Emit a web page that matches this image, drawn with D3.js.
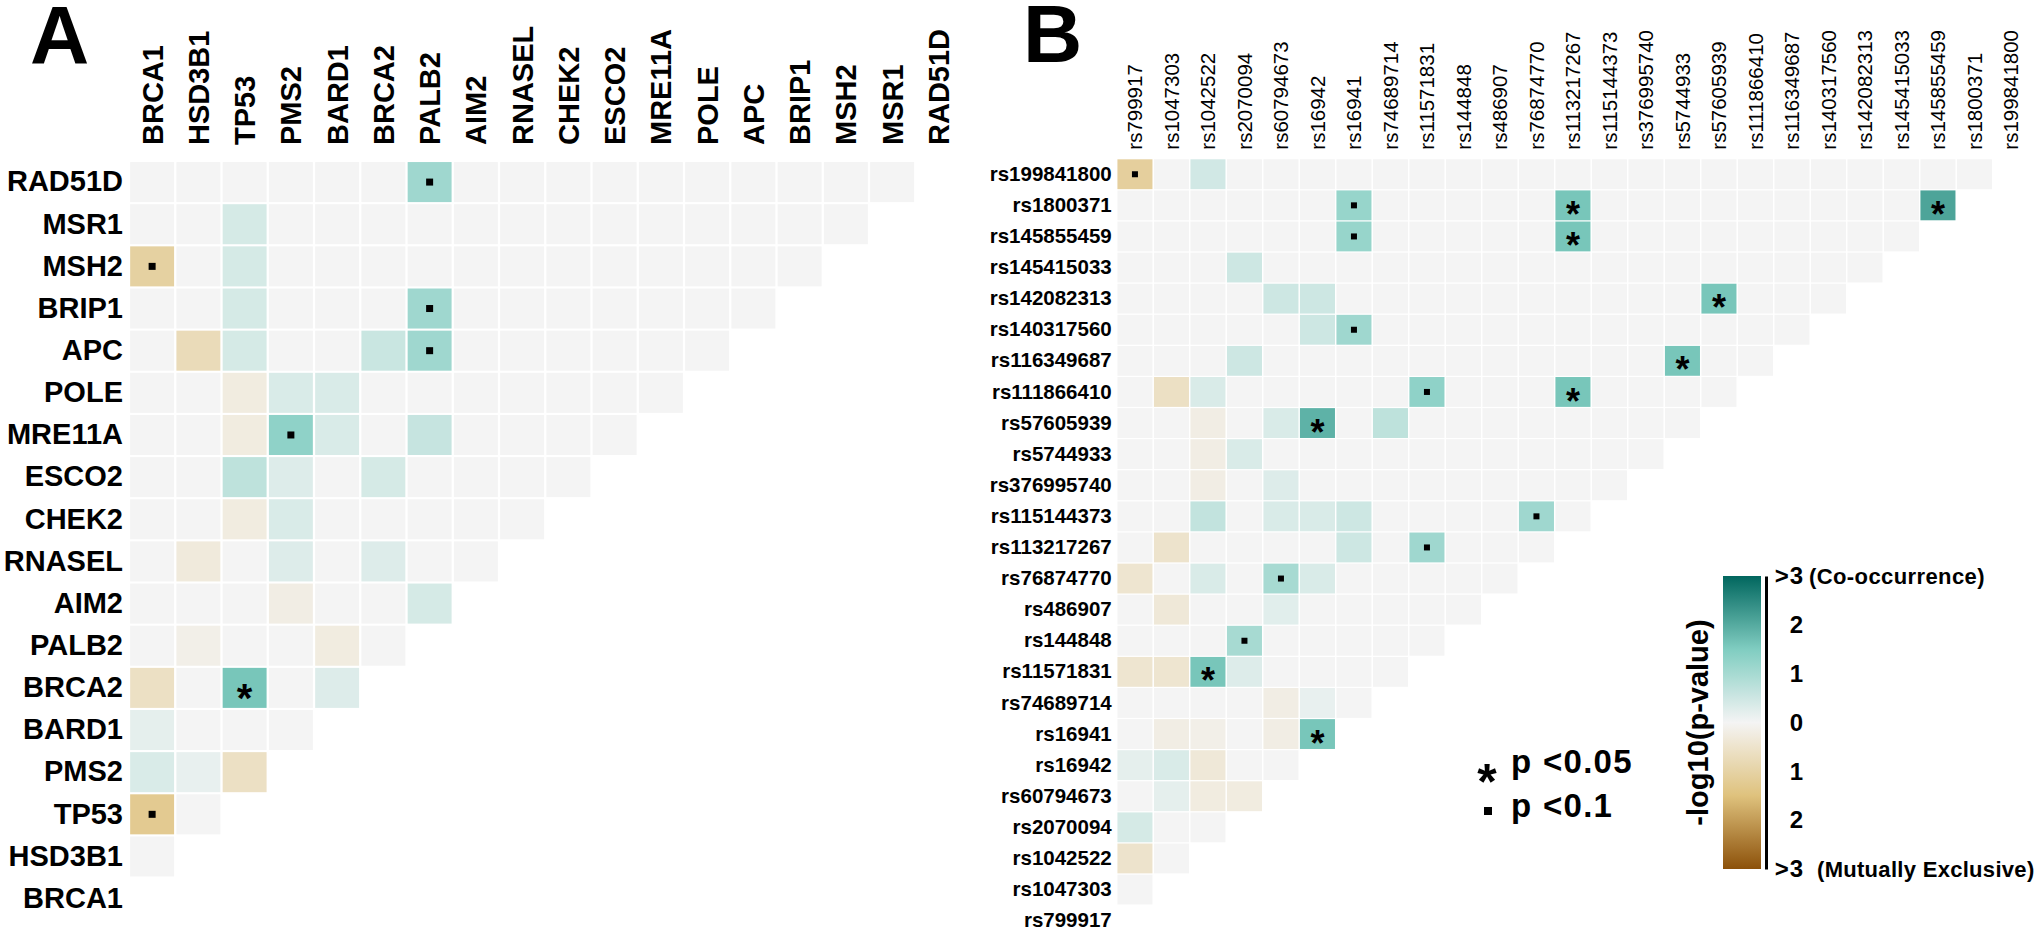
<!DOCTYPE html>
<html>
<head>
<meta charset="utf-8">
<script src="https://cdn.jsdelivr.net/npm/d3@7"></script>
<style>
  body { margin: 0; background: #fff; }
  svg text { font-family: "Liberation Sans", Arial, sans-serif; }
</style>
</head>
<body>
<script>
// Panel A genes in column order (rows run in the reverse order)
const genesA = ["BRCA1", "HSD3B1", "TP53", "PMS2", "BARD1", "BRCA2", "PALB2", "AIM2", "RNASEL",
  "CHEK2", "ESCO2", "MRE11A", "POLE", "APC", "BRIP1", "MSH2", "MSR1", "RAD51D"];

// signed -log10(p): positive = co-occurrence, negative = mutually exclusive
// one row per gene from the top (RAD51D) down, columns BRCA1 onwards
const valuesA = [
  [0, 0, 0, 0, 0, 0, 1.1, 0, 0, 0, 0, 0, 0, 0, 0, 0, 0],
  [0, 0, 0.4, 0, 0, 0, 0, 0, 0, 0, 0, 0, 0, 0, 0, 0],
  [-1.05, 0, 0.4, 0, 0, 0, 0, 0, 0, 0, 0, 0, 0, 0, 0],
  [0, 0, 0.4, 0, 0, 0, 1.1, 0, 0, 0, 0, 0, 0, 0],
  [0, -0.75, 0.4, 0, 0, 0.55, 1.1, 0, 0, 0, 0, 0, 0],
  [0, 0, -0.25, 0.35, 0.35, 0, 0, 0, 0, 0, 0, 0],
  [0, 0, -0.25, 1.3, 0.35, 0, 0.6, 0, 0, 0, 0],
  [0, 0, 0.7, 0.3, 0, 0.4, 0, 0, 0, 0],
  [0, 0, -0.25, 0.35, 0, 0, 0, 0, 0],
  [0, -0.3, 0, 0.3, 0, 0.3, 0, 0],
  [0, 0, 0, -0.2, 0, 0, 0.4],
  [0, -0.15, 0, 0, -0.25, 0],
  [-0.6, 0, 1.6, 0, 0.3],
  [0.2, 0, 0, 0],
  [0.35, 0.15, -0.6],
  [-1.25, 0],
  [0]
];

// significance marks: [row gene, column gene, mark]
const sigA = [
  ["RAD51D", "PALB2", "dot"], ["MSH2", "BRCA1", "dot"], ["BRIP1", "PALB2", "dot"],
  ["APC", "PALB2", "dot"], ["MRE11A", "PMS2", "dot"], ["TP53", "BRCA1", "dot"],
  ["BRCA2", "TP53", "star"]
];

// Panel B SNPs in column order
const snpsB = ["rs799917", "rs1047303", "rs1042522", "rs2070094", "rs60794673", "rs16942", "rs16941",
  "rs74689714", "rs11571831", "rs144848", "rs486907", "rs76874770", "rs113217267", "rs115144373",
  "rs376995740", "rs5744933", "rs57605939", "rs111866410", "rs116349687", "rs140317560",
  "rs142082313", "rs145415033", "rs145855459", "rs1800371", "rs199841800"];

const valuesB = [
  [-1.1, 0, 0.45, 0, 0, 0, 0, 0, 0, 0, 0, 0, 0, 0, 0, 0, 0, 0, 0, 0, 0, 0, 0, 0],
  [0, 0, 0, 0, 0, 0, 1.2, 0, 0, 0, 0, 0, 1.6, 0, 0, 0, 0, 0, 0, 0, 0, 0, 2.1],
  [0, 0, 0, 0, 0, 0, 1.2, 0, 0, 0, 0, 0, 1.6, 0, 0, 0, 0, 0, 0, 0, 0, 0],
  [0, 0, 0, 0.5, 0, 0, 0, 0, 0, 0, 0, 0, 0, 0, 0, 0, 0, 0, 0, 0, 0],
  [0, 0, 0, 0, 0.5, 0.5, 0, 0, 0, 0, 0, 0, 0, 0, 0, 0, 1.6, 0, 0, 0],
  [0, 0, 0, 0, 0, 0.5, 1.1, 0, 0, 0, 0, 0, 0, 0, 0, 0, 0, 0, 0],
  [0, 0, 0, 0.5, 0, 0, 0, 0, 0, 0, 0, 0, 0, 0, 0, 1.6, 0, 0],
  [0, -0.6, 0.35, 0, 0, 0, 0, 0, 1.3, 0, 0, 0, 1.6, 0, 0, 0, 0],
  [0, 0, -0.2, 0, 0.35, 1.9, 0, 0.7, 0, 0, 0, 0, 0, 0, 0, 0],
  [0, 0, -0.2, 0.35, 0, 0, 0, 0, 0, 0, 0, 0, 0, 0, 0],
  [0, 0, -0.2, 0, 0.3, 0, 0, 0, 0, 0, 0, 0, 0, 0],
  [0, 0, 0.65, 0, 0.35, 0.35, 0.5, 0, 0, 0, 0, 1.1, 0],
  [0, -0.5, 0, 0, 0, 0, 0.5, 0, 1.1, 0, 0, 0],
  [-0.45, 0, 0.35, 0, 1.0, 0.35, 0, 0, 0, 0, 0],
  [0, -0.35, 0, 0, 0.25, 0, 0, 0, 0, 0],
  [0, 0, 0, 1.0, 0, 0, 0, 0, 0],
  [-0.45, -0.45, 1.6, 0.3, 0, 0, 0, 0],
  [0, 0, 0, 0, -0.2, 0.15, 0],
  [0, -0.2, -0.15, 0, -0.2, 1.6],
  [0.2, 0.35, -0.35, 0, 0],
  [0, 0.2, -0.25, -0.25],
  [0.4, 0, 0],
  [-0.5, 0],
  [0]
];

const sigB = [
  ["rs199841800", "rs799917", "dot"], ["rs1800371", "rs16941", "dot"], ["rs145855459", "rs16941", "dot"],
  ["rs140317560", "rs16941", "dot"], ["rs111866410", "rs11571831", "dot"],
  ["rs115144373", "rs76874770", "dot"], ["rs113217267", "rs11571831", "dot"],
  ["rs76874770", "rs60794673", "dot"], ["rs144848", "rs2070094", "dot"],
  ["rs1800371", "rs113217267", "star"], ["rs1800371", "rs145855459", "star"],
  ["rs145855459", "rs113217267", "star"], ["rs142082313", "rs57605939", "star"],
  ["rs116349687", "rs5744933", "star"], ["rs111866410", "rs113217267", "star"],
  ["rs57605939", "rs16942", "star"], ["rs11571831", "rs1042522", "star"],
  ["rs16941", "rs16942", "star"]
];

// Legend ticks
const legendTicks = [3, 2, 1, 0, -1, -2, -3];

const width = 2040;
const height = 932;

const svg = d3.select("body").append("svg")
  .attr("width", width)
  .attr("height", height);

// colour: brown (mutually exclusive) - grey - teal (co-occurrence)
const color = d3.scaleLinear()
  .domain([-3, -1.5, 0, 1.5, 3])
  .range(["#8c510a", "#dfc27d", "#f4f4f4", "#80cdc1", "#01665e"])
  .clamp(true);

function drawPanel(opt) {
  const names = opt.names;
  const rows = names.slice().reverse();
  const n = names.length;

  const x = d3.scaleBand()
    .domain(names)
    .range([opt.x0, opt.x0 + n * opt.colStep])
    .paddingInner(opt.pad)
    .paddingOuter(opt.pad / 2);

  const y = d3.scaleBand()
    .domain(rows)
    .range([opt.y0, opt.y0 + n * opt.rowStep])
    .paddingInner(opt.pad)
    .paddingOuter(opt.pad / 2);

  const cells = [];
  rows.forEach((r, k) => {
    (opt.values[k] || []).forEach((v, j) => cells.push({ row: r, col: names[j], v: v }));
  });

  const g = svg.append("g");

  g.selectAll("rect.cell")
    .data(cells)
    .enter()
    .append("rect")
    .attr("class", "cell")
    .attr("x", d => x(d.col))
    .attr("y", d => y(d.row))
    .attr("width", x.bandwidth())
    .attr("height", y.bandwidth())
    .attr("fill", d => color(d.v));

  const marks = opt.sig.map(s => ({ row: s[0], col: s[1], mark: s[2] }));

  g.selectAll("rect.dot")
    .data(marks.filter(d => d.mark === "dot"))
    .enter()
    .append("rect")
    .attr("class", "dot")
    .attr("x", d => x(d.col) + x.bandwidth() / 2 - opt.dot / 2)
    .attr("y", d => y(d.row) + y.bandwidth() / 2 - opt.dot / 2)
    .attr("width", opt.dot)
    .attr("height", opt.dot)
    .attr("fill", "#000");

  g.selectAll("text.star")
    .data(marks.filter(d => d.mark === "star"))
    .enter()
    .append("text")
    .attr("class", "star")
    .attr("x", d => x(d.col) + x.bandwidth() / 2)
    .attr("y", d => y(d.row) + y.bandwidth() / 2 + opt.star * 0.6)
    .attr("text-anchor", "middle")
    .style("font-size", opt.star + "px")
    .style("font-weight", "bold")
    .text("*");

  // row labels
  const yAxis = g.append("g")
    .attr("transform", `translate(${opt.x0}, 0)`)
    .call(d3.axisLeft(y).tickSize(0).tickPadding(opt.rowPad));
  yAxis.select(".domain").remove();
  yAxis.selectAll("text")
    .style("font-size", opt.rowFont + "px")
    .style("font-weight", "bold")
    .attr("fill", "#000");

  // column labels, rotated
  const xAxis = g.append("g")
    .attr("transform", `translate(0, ${opt.y0})`)
    .call(d3.axisTop(x).tickSize(0));
  xAxis.select(".domain").remove();
  xAxis.selectAll("text")
    .attr("transform", "rotate(-90)")
    .attr("x", opt.colPad)
    .attr("y", 0)
    .attr("dy", "0.36em")
    .attr("text-anchor", "start")
    .style("font-size", opt.colFont + "px")
    .style("font-weight", opt.colWeight)
    .attr("fill", "#000");
}

drawPanel({
  names: genesA, values: valuesA, sig: sigA,
  x0: 129, colStep: 46.25, y0: 161, rowStep: 42.15, pad: 0.05,
  dot: 7, star: 40, rowFont: 29, rowPad: 6, colFont: 29, colPad: 16, colWeight: "bold"
});

drawPanel({
  names: snpsB, values: valuesB, sig: sigB,
  x0: 1116.7, colStep: 36.5, y0: 158.7, rowStep: 31.1, pad: 0.04,
  dot: 6, star: 36, rowFont: 20.5, rowPad: 5, colFont: 20.5, colPad: 9, colWeight: "normal"
});

// panel letters
svg.append("text")
  .attr("x", 30)
  .attr("y", 63)
  .style("font-size", "82px")
  .style("font-weight", "bold")
  .text("A");

svg.append("text")
  .attr("x", 1023)
  .attr("y", 62)
  .style("font-size", "82px")
  .style("font-weight", "bold")
  .text("B");

// colour bar legend
const legendY = d3.scaleLinear().domain([3, -3]).range([576, 869]);

const grad = svg.append("defs").append("linearGradient")
  .attr("id", "bar-grad")
  .attr("x1", 0).attr("y1", 0).attr("x2", 0).attr("y2", 1);

grad.selectAll("stop")
  .data(d3.range(0, 1.0001, 0.05))
  .enter()
  .append("stop")
  .attr("offset", d => d)
  .attr("stop-color", d => color(3 - 6 * d));

svg.append("rect")
  .attr("x", 1723)
  .attr("y", legendY(3))
  .attr("width", 38)
  .attr("height", legendY(-3) - legendY(3))
  .attr("fill", "url(#bar-grad)");

const legendAxis = svg.append("g")
  .attr("transform", "translate(1766, 0)")
  .call(d3.axisRight(legendY)
    .tickValues(legendTicks)
    .tickSize(0)
    .tickFormat(v => Math.abs(v) === 3 ? ">3" : Math.abs(v)));

legendAxis.select(".domain")
  .attr("stroke", "#000")
  .attr("stroke-width", 3);

legendAxis.selectAll("text")
  .attr("x", 38)
  .attr("text-anchor", "end")
  .style("font-size", "24px")
  .style("font-weight", "bold")
  .style("letter-spacing", "1px")
  .attr("fill", "#000");

svg.append("text")
  .attr("x", 1809)
  .attr("y", legendY(3))
  .attr("dy", "0.36em")
  .style("font-size", "22px")
  .style("font-weight", "bold")
  .style("letter-spacing", "0.4px")
  .text("(Co-occurrence)");

svg.append("text")
  .attr("x", 1817)
  .attr("y", legendY(-3))
  .attr("dy", "0.36em")
  .style("font-size", "22px")
  .style("font-weight", "bold")
  .style("letter-spacing", "0.3px")
  .text("(Mutually Exclusive)");

svg.append("text")
  .attr("transform", `translate(1708, ${legendY(0)}) rotate(-90)`)
  .attr("text-anchor", "middle")
  .style("font-size", "29px")
  .style("font-weight", "bold")
  .text("-log10(p-value)");

// significance legend
svg.append("text")
  .attr("x", 1487)
  .attr("y", 769 + 30)
  .attr("text-anchor", "middle")
  .style("font-size", "50px")
  .style("font-weight", "bold")
  .text("*");

svg.append("text")
  .attr("x", 1511)
  .attr("y", 773)
  .style("font-size", "33px")
  .style("font-weight", "bold")
  .style("letter-spacing", "1.3px")
  .text("p <0.05");

svg.append("rect")
  .attr("x", 1484)
  .attr("y", 807)
  .attr("width", 8)
  .attr("height", 8)
  .attr("fill", "#000");

svg.append("text")
  .attr("x", 1511)
  .attr("y", 817)
  .style("font-size", "33px")
  .style("font-weight", "bold")
  .style("letter-spacing", "1.3px")
  .text("p <0.1");
</script>
</body>
</html>
